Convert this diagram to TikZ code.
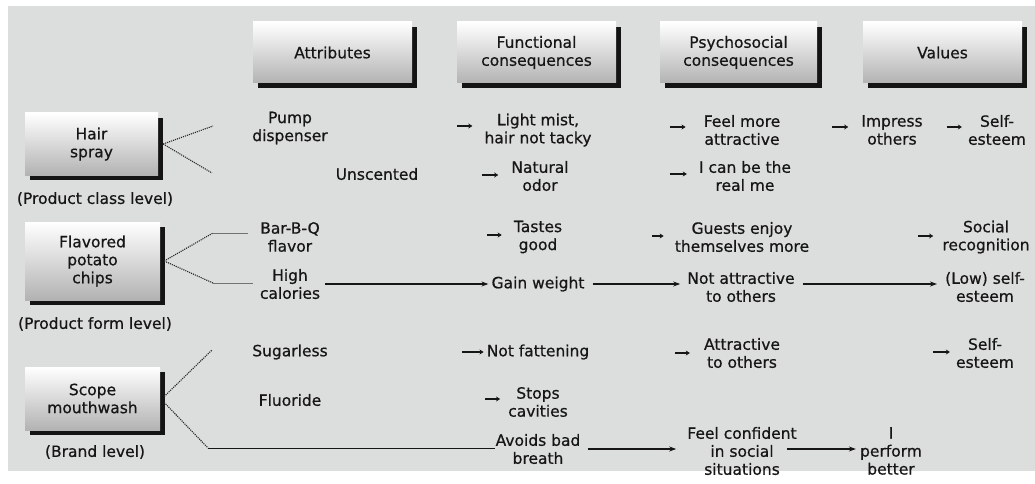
\documentclass[tikz,border=0pt]{standalone}
\usepackage{fontspec}
\setmainfont[FakeBold=0.6]{DejaVu Sans}
\usetikzlibrary{arrows.meta,shadows}
\definecolor{bggray}{HTML}{DCDDDD}
\definecolor{inkc}{HTML}{161616}
\begin{document}
\begin{tikzpicture}[x=1pt,y=-1pt,
  txt/.style={font=\fontsize{15.5}{18}\selectfont, align=center, inner sep=0pt, text=inkc},
  shadebox/.style={txt, shading=axis, top color=white, bottom color=black!30,
     general shadow={fill=black!92, shadow xshift=5pt, shadow yshift=-5pt}},
  hbox/.style={shadebox, minimum width=159pt, minimum height=61pt},
  dots/.style={densely dotted, line width=1.1pt, black!85},
  thin/.style={line width=0.9pt, black!55},
  stub/.style={line width=1.6pt, inkc, -{Stealth[length=4pt,width=5pt]}},
  conn/.style={line width=1.2pt, inkc, -{Stealth[length=7pt,width=5pt]}}]
\useasboundingbox (0,0) rectangle (1035,484);
\fill[white] (0,0) rectangle (1035,484);
\fill[bggray] (8,6) rectangle (1035,471);

% header boxes
\node[hbox] (hattr) at (332.5,52.5) {Attributes};
\node[hbox] (hfunc) at (536.5,52.5) {Functional\\consequences};
\node[hbox, minimum width=157pt] (hpsy) at (738.5,52.5) {Psychosocial\\consequences};
\node[hbox] (hval) at (942.5,52.5) {Values};

% product boxes
\node[shadebox, minimum width=133pt, minimum height=62pt] (hs) at (91.5,144) {Hair\\spray};
\node[txt] (hsl) at (95,199) {(Product class level)};
\node[shadebox, minimum width=135pt, minimum height=78pt] (fc) at (92.5,261) {Flavored\\potato\\chips};
\node[txt] (fcl) at (95,324) {(Product form level)};
\node[shadebox, minimum width=135pt, minimum height=63pt] (sc) at (92.5,398.5) {Scope\\mouthwash};
\node[txt] (scl) at (95,452) {(Brand level)};

% attributes
\node[txt] (pump) at (290,128) {Pump\\dispenser};
\node[txt] (unsc) at (377,174) {Unscented};
\node[txt] (barbq) at (290,237) {Bar-B-Q\\flavor};
\node[txt] (high) at (290,284) {High\\calories};
\node[txt] (sugar) at (290,352) {Sugarless};
\node[txt] (fluor) at (290,400) {Fluoride};

% functional consequences
\node[txt] (lm) at (538,130) {Light mist,\\hair not tacky};
\node[txt] (nat) at (540,176) {Natural\\odor};
\node[txt] (tast) at (538,237) {Tastes\\good};
\node[txt] (gain) at (538,284) {Gain weight};
\node[txt] (notfat) at (538,352) {Not fattening};
\node[txt] (stops) at (538,402) {Stops\\cavities};
\node[txt] (avoid) at (538,449) {Avoids bad\\breath};

% psychosocial consequences
\node[txt] (feel) at (742,130) {Feel more\\attractive};
\node[txt] (real) at (745,176) {I can be the\\real me};
\node[txt] (guests) at (742,237) {Guests enjoy\\themselves more};
\node[txt] (notatt) at (741,287) {Not attractive\\to others};
\node[txt] (att) at (742,353) {Attractive\\to others};
\node[txt] (conf) at (742,451) {Feel confident\\in social\\situations};

% values
\node[txt] (impr) at (892,130) {Impress\\others};
\node[txt] (self1) at (997,130) {Self-\\esteem};
\node[txt] (social) at (986,237) {Social\\recognition};
\node[txt] (low) at (985,287) {(Low) self-\\esteem};
\node[txt] (self2) at (985,353) {Self-\\esteem};
\node[txt] (perf) at (891,451) {I\\perform\\better};

% fan-out lines from product boxes
\coordinate (hs1) at (213,126);
\coordinate (hs2) at (212,173);
\draw[dots] ([xshift=5pt]hs.east) -- (hs1);
\draw[dots] ([xshift=5pt]hs.east) -- (hs2);
\coordinate (fc1) at (213,233);
\coordinate (fc2) at (213,283);
\draw[dots] ([xshift=4pt]fc.east) -- (fc1);
\draw[dots] ([xshift=4pt]fc.east) -- (fc2);
\draw[thin, shorten >=12pt] (fc1) -- (fc1 -| barbq.west);
\draw[thin, shorten >=7pt] (fc2) -- (fc2 -| high.west);
\coordinate (sc1) at (212,350);
\coordinate (sc2) at (208,448);
\draw[dots] ([xshift=4pt,yshift=2pt]sc.east) -- (sc1);
\draw[dots] ([xshift=4pt,yshift=-4pt]sc.east) -- (sc2);
\draw[line width=1pt, inkc] (sc2) -- (sc2 -| avoid.west);

% long arrows
\draw[conn, shorten <=5pt, shorten >=3pt] (high.east) -- (high.east -| gain.west);
\draw[conn, shorten <=8pt, shorten >=7pt] (gain.east) -- (gain.east -| notatt.west);
\draw[conn, shorten <=8pt, shorten >=8pt] (notatt.east |- gain.east) -- (low.west |- gain.east);
\draw[conn, shorten <=7pt, shorten >=11pt] (avoid.east) -- (avoid.east -| conf.west);
\draw[conn, shorten >=4pt] ([xshift=-10pt]conf.east |- avoid.east) -- (avoid.east -| perf.west);

% short arrow stubs
\coordinate (a1) at (457,126);
\draw[stub, shorten >=12pt] (a1) -- (a1 -| lm.west);
\coordinate (a2) at (482,175);
\draw[stub, shorten >=13pt] (a2) -- (a2 -| nat.west);
\coordinate (a3) at (487,235);
\draw[stub, shorten >=12pt] (a3) -- (a3 -| tast.west);
\coordinate (a4) at (462,352);
\draw[stub, shorten >=3pt] (a4) -- (a4 -| notfat.west);
\coordinate (a5) at (485,399);
\draw[stub, shorten >=8pt] (a5) -- (a5 -| stops.west);
\coordinate (a6) at (670,127);
\draw[stub, shorten >=18pt] (a6) -- (a6 -| feel.west);
\coordinate (a7) at (670,174);
\draw[stub, shorten >=12pt] (a7) -- (a7 -| real.west);
\coordinate (a8) at (652,236);
\draw[stub, shorten >=11pt] (a8) -- (a8 -| guests.west);
\coordinate (a9) at (675,353);
\draw[stub, shorten >=14pt] (a9) -- (a9 -| att.west);
\coordinate (a10) at (832,127);
\draw[stub, shorten >=13pt] (a10) -- (a10 -| impr.west);
\coordinate (a11) at (947,127);
\draw[stub, shorten >=6pt] (a11) -- (a11 -| self1.west);
\coordinate (a12) at (918,236);
\draw[stub, shorten >=9pt] (a12) -- (a12 -| social.west);
\coordinate (a13) at (933,352);
\draw[stub, shorten >=6pt] (a13) -- (a13 -| self2.west);
\end{tikzpicture}
\end{document}
